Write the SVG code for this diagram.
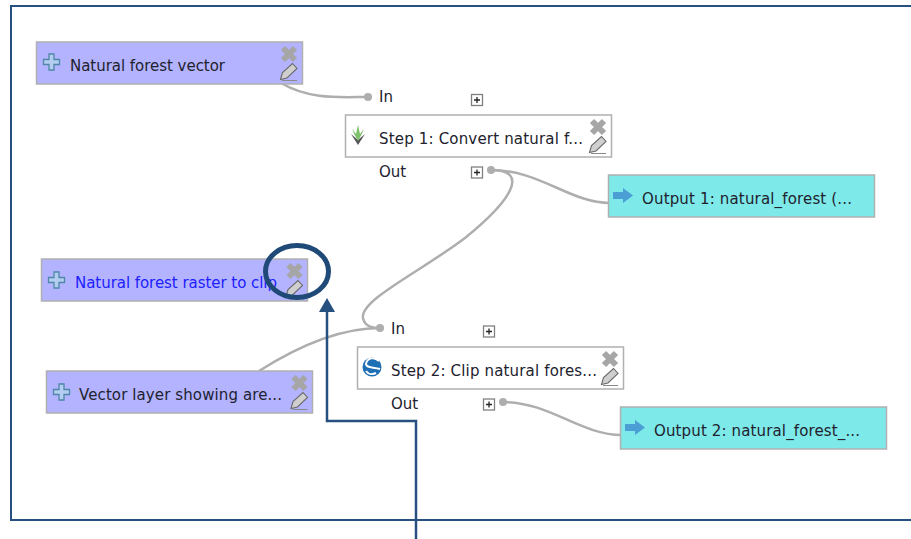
<svg xmlns="http://www.w3.org/2000/svg" width="911" height="539" viewBox="0 0 911 539">
<style>
text{font-family:"DejaVu Sans","Liberation Sans",sans-serif;font-size:15px;fill:#22222e}
.inp{fill:#b3b3ff;stroke:#b0b0b0;stroke-width:1.5}
.alg{fill:#fff;stroke:#b0b0b0;stroke-width:1.5}
.out{fill:#7de9e9;stroke:#b0b0b0;stroke-width:1.5}
.lnk{fill:none;stroke:#aeaeae;stroke-width:2.500}
.dot{fill:#aeaeae}
.frame{fill:none;stroke:#25507f;stroke-width:2}
.plus{fill:#b4cdf0;stroke:#4f87a8;stroke-width:1.300}
.x{stroke:#a6a6a6;stroke-width:6;fill:none}
.pen{fill:#cfcfcf;stroke:#6a6a6a;stroke-width:1.100}
.sh{stroke:#8a8a8a;stroke-width:1;fill:none}
.box{fill:#fff;stroke:#808080;stroke-width:1.300}
.bp{stroke:#222;stroke-width:1.300;fill:none}
.arr{fill:#4b9fd5}
</style>
<defs>
<g id="ctl"><path class="x" d="M-6-6 6 6M6-6-6 6"/><path class="pen" d="M-8.500 25.500-6.500 18.500 3.500 9.500 8 14.500-2 24Z"/><path class="sh" d="M-7 26.500H8"/></g>
<path id="add" class="plus" d="M-2.500-8H2.500V-2.500H8V2.500H2.500V8H-2.500V2.500H-8V-2.500H-2.500Z"/>
<g id="exp"><rect class="box" x="-5.500" y="-5.500" width="11" height="11"/><path class="bp" d="M-3 0H3M0-3V3"/></g>
<path id="go" class="arr" d="M-10-3.500H0V-7.500L10 0 0 7.500V3.500H-10Z"/>
</defs>
<g id="frame"><path class="frame" d="M911 6H11V520H911"/></g>
<g id="connectors">
<path class="lnk" d="M281 83C310 100 340 97 368 97"/>
<path class="lnk" d="M491 170C540 170 570 203 610 203"/>
<path class="lnk" d="M491 170C530 170 512 200 465 238C420 272 360 300 363 318C365 328 375 328 380 328"/>
<path class="lnk" d="M259 371C300 345 340 328 380 328"/>
<path class="lnk" d="M503 402C550 402 580 435 622 435"/>
<circle class="dot" cx="368" cy="97" r="4"/><circle class="dot" cx="491" cy="170" r="4"/><circle class="dot" cx="380" cy="328" r="4"/><circle class="dot" cx="503" cy="402" r="4"/>
</g>
<g id="n1"><rect class="inp" x="36.500" y="42" width="266" height="42"/><use href="#add" x="51.500" y="62"/><text x="70" y="70.500" textLength="155">Natural forest vector</text><use href="#ctl" x="289" y="54"/></g>
<g id="n2"><rect class="inp" x="41.500" y="259" width="266" height="42"/><use href="#add" x="56.500" y="280"/><text x="75" y="287.500" textLength="202" style="fill:#2020ff">Natural forest raster to clip</text><use href="#ctl" x="294.500" y="271"/></g>
<g id="n3"><rect class="inp" x="46.500" y="371" width="266" height="42"/><use href="#add" x="61.500" y="392"/><text x="79" y="399.500" textLength="203">Vector layer showing are...</text><use href="#ctl" x="299.500" y="383"/></g>
<g id="s1"><text x="379" y="101.500">In</text><use href="#exp" x="477" y="100"/><rect class="alg" x="345.500" y="115" width="266" height="42"/>
<path d="M351 134 358 145 365 134 358 140Z" fill="#555"/><path d="M352 129C354 134 356 137 358 141 360 137 362 134 364 129L360 134 358 125 356 134Z" fill="#7cc06a"/>
<text x="379" y="143.500" textLength="204">Step 1: Convert natural f...</text><use href="#ctl" x="598" y="127"/><text x="379" y="176.500">Out</text><use href="#exp" x="477" y="172.500"/></g>
<g id="s2"><text x="391" y="333.500">In</text><use href="#exp" x="489" y="331.500"/><rect class="alg" x="357.500" y="347" width="266" height="42"/>
<circle cx="372" cy="367" r="9.500" fill="#1f6fb5"/><path d="M379 361C374 356 367 358 366 364C366 368 372 367 380 369M376 373C372 375 368 374 366 371" stroke="#fff" stroke-width="2" fill="none"/>
<text x="391" y="375.500" textLength="206">Step 2: Clip natural fores...</text><use href="#ctl" x="610" y="359"/><text x="391" y="408.500">Out</text><use href="#exp" x="489" y="404.500"/></g>
<g id="o1"><rect class="out" x="608.500" y="175" width="266" height="42"/><use href="#go" x="623" y="195.500"/><text x="642" y="203.500" textLength="210">Output 1: natural_forest (...</text></g>
<g id="o2"><rect class="out" x="620.500" y="407" width="266" height="42"/><use href="#go" x="635" y="427.500"/><text x="654" y="435.500" textLength="206">Output 2: natural_forest_...</text></g>
<g id="callout">
<ellipse cx="297" cy="271.500" rx="31.500" ry="26" fill="none" stroke="#1f4a78" stroke-width="5"/>
<path d="M416 539V421H327V312" fill="none" stroke="#25507f" stroke-width="2.500"/>
<path d="M319 312H335L327 298Z" fill="#25507f"/>
</g>
</svg>
